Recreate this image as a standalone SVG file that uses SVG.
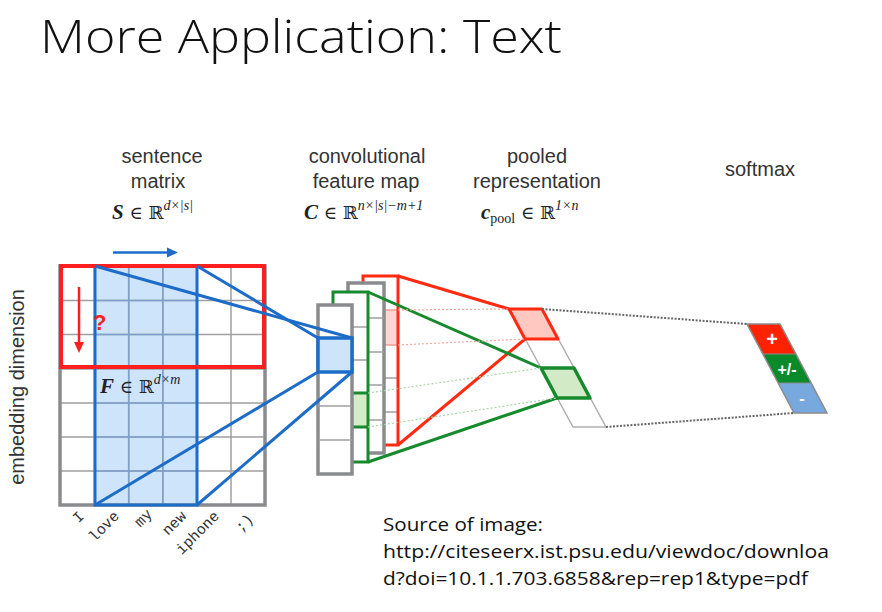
<svg xmlns="http://www.w3.org/2000/svg" width="882" height="612" viewBox="0 0 882 612">
<defs>
<style>
.lbl{font-family:"Liberation Sans",Arial,sans-serif;font-size:20px;fill:#333;text-anchor:middle}
.math{font-family:"Liberation Serif","DejaVu Serif",serif;fill:#222}
.word{font-family:"Liberation Mono","Courier New",monospace;font-size:15px;fill:#333}
.src{font-family:"Open Sans","Liberation Sans",sans-serif;font-size:19px;fill:#111}
.grid{stroke:#a0a0a0;stroke-width:1.5;fill:none}
.gbox{stroke:#8a8b8f;stroke-width:3.5}
.blue{stroke:#1c6cc8;stroke-width:3;fill:none}
.red{stroke:#ff2a12;stroke-width:3;fill:none}
.green{stroke:#168a2c;stroke-width:3;fill:none}
.rdot{stroke:#f7a59c;stroke-width:1.2;stroke-dasharray:2 2;fill:none}
.gdot{stroke:#a9d5a6;stroke-width:1.2;stroke-dasharray:2 2;fill:none}
.kdot{stroke:#666;stroke-width:2;stroke-dasharray:2 1.5;fill:none}
.sm{font-family:"Liberation Sans",Arial,sans-serif;font-weight:bold;fill:#fff;text-anchor:middle}
</style>
</defs>
<rect width="882" height="612" fill="#fff"/>
<text x="40" y="53" font-family="Open Sans, Liberation Sans, sans-serif" font-weight="300" font-size="46" fill="#111" textLength="522" lengthAdjust="spacingAndGlyphs">More Application: Text</text>

<!-- headers -->
<g id="hdr-sentence">
<text class="lbl" x="162" y="163">sentence</text>
<text class="lbl" x="158" y="188">matrix</text>
<text class="math" x="112" y="219" font-size="21"><tspan font-weight="bold" font-style="italic">S</tspan><tspan font-family="DejaVu Serif" font-size="18"> ∈ ℝ</tspan><tspan font-style="italic" font-size="14" dy="-9">d×|s|</tspan></text>
</g>
<g id="hdr-conv">
<text class="lbl" x="367" y="163">convolutional</text>
<text class="lbl" x="366" y="188">feature map</text>
<text class="math" x="304" y="219" font-size="21"><tspan font-weight="bold" font-style="italic">C</tspan><tspan font-family="DejaVu Serif" font-size="18"> ∈ ℝ</tspan><tspan font-style="italic" font-size="14" dy="-9">n×|s|−m+1</tspan></text>
</g>
<g id="hdr-pool">
<text class="lbl" x="537" y="163">pooled</text>
<text class="lbl" x="537" y="188">representation</text>
<text class="math" x="481" y="219" font-size="21"><tspan font-weight="bold" font-style="italic">c</tspan><tspan font-size="14" dy="4">pool</tspan><tspan font-family="DejaVu Serif" font-size="18" dy="-4"> ∈ ℝ</tspan><tspan font-style="italic" font-size="14" dy="-9">1×n</tspan></text>
</g>
<g id="hdr-softmax">
<text class="lbl" x="760" y="176">softmax</text>
</g>

<text class="lbl" transform="rotate(-90 24 387)" x="24" y="387">embedding dimension</text>

<!-- sentence matrix -->
<g id="sentence-matrix">
<rect x="60" y="266" width="205" height="239" fill="#fff"/>
<rect x="95" y="266" width="102" height="239" fill="#cde4fa"/>
<path class="grid" d="M60 300.5H265M60 334.5H265M60 369H265M60 403H265M60 437H265M60 471H265M94.5 266V505M128.7 266V505M162.8 266V505M197 266V505M231 266V505"/>
<path d="M95 300.5H197M95 334.5H197M95 403H197M95 437H197M95 471H197M128.7 266V505M162.8 266V505" stroke="#7d9fcc" stroke-width="1.5" fill="none"/>
<rect x="60" y="266" width="205" height="239" fill="none" stroke="#8a8b8f" stroke-width="3.5"/>
<rect class="blue" x="95" y="266" width="102" height="239" stroke-width="3.5"/>
<rect x="61" y="266" width="203" height="101" fill="none" stroke="#ff1f1f" stroke-width="4"/>
<line x1="113" y1="252.5" x2="168" y2="252.5" stroke="#1c6cc8" stroke-width="2.5"/>
<path d="M167 247.5L178 252.5L167 257.5Z" fill="#1c6cc8"/>
<line x1="79" y1="287" x2="79" y2="343" stroke="#ff1f1f" stroke-width="2.5"/>
<path d="M74 342L79 353L84 342Z" fill="#ff1f1f"/>
<text x="93" y="330" font-family="Liberation Sans,Arial,sans-serif" font-weight="bold" font-size="22" fill="#ff1f1f">?</text>
<text class="math" x="100" y="393" font-size="21"><tspan font-weight="bold" font-style="italic">F</tspan><tspan font-family="DejaVu Serif" font-size="18"> ∈ ℝ</tspan><tspan font-style="italic" font-size="14" dy="-9">d×m</tspan></text>
</g>

<!-- words -->
<g id="words">
<text class="word" x="78.6" y="523.4" rotate="-45">I</text>
<text class="word" x="94.55 100.91 107.27 113.64" y="542.45 536.09 529.73 523.36" rotate="-45">love</text>
<text class="word" x="140.27 146.64" y="527.73 521.36" rotate="-45">my</text>
<text class="word" x="167.91 174.27 180.64" y="536.09 529.73 523.36" rotate="-45">new</text>
<text class="word" x="181.82 188.18 194.55 200.91 207.27 213.64" y="555.18 548.82 542.45 536.09 529.73 523.36" rotate="-45">iphone</text>
<text class="word" x="241.27 247.64" y="532.73 526.36" rotate="-45">;)</text>
</g>

<!-- conv feature maps -->
<g id="conv-red">
<rect x="363" y="276" width="35" height="169" fill="#fff"/>
<rect x="384" y="310" width="14" height="35" fill="#ffd6d0"/>
<path d="M384 310H398M384 345H398" stroke="#f49a90" stroke-width="1.5"/>
<path d="M384 378H398M384 412H398" class="grid"/>
<rect class="red" x="363" y="276" width="35" height="169" stroke-width="3.5"/>
</g>
<g id="conv-gray">
<rect class="gbox" x="348" y="283" width="36" height="170" fill="#fff"/>
<path class="grid" d="M368 318H384M368 352H384M368 385H384M368 420H384"/>
</g>
<g id="conv-green">
<rect x="333" y="292" width="35" height="170" fill="#fff"/>
<rect x="352" y="393" width="16" height="34" fill="#d5ecc9"/>
<path class="grid" d="M352 327H368M352 360H368"/>
<path d="M352 393H368M352 427H368" stroke="#168a2c" stroke-width="3"/>
<rect class="green" x="333" y="292" width="35" height="170" stroke-width="3.5"/>
</g>
<g id="conv-front">
<rect class="gbox" x="318" y="305" width="34" height="169" fill="#fff"/>
<path class="grid" d="M318 406H352M318 440H352"/>
<rect x="318" y="338" width="34" height="34" fill="#cde4fa" stroke="#1c6cc8" stroke-width="3.5"/>
</g>

<!-- pooled -->
<g id="pooled">
<path d="M509 309H542L606 427H573Z" fill="#fff" stroke="#b0b0b0" stroke-width="1.5"/>
<path d="M525 339H558M557 398H590" stroke="#b0b0b0" stroke-width="1.5"/>
<path d="M509 309H542L558 339H525Z" fill="#ffc9c1" stroke="#ff2a12" stroke-width="3" stroke-linejoin="round"/>
<path d="M541 368H574L590 398H557Z" fill="#d3eac6" stroke="#168a2c" stroke-width="3.5" stroke-linejoin="round"/>
</g>

<!-- softmax -->
<g id="softmax">
<path d="M747 324H780L796 354H763Z" fill="#ff2200"/>
<path d="M763 354H796L811 383H778Z" fill="#0b8a2c"/>
<path d="M778 383H811L827 413H794Z" fill="#78a9de"/>
<path d="M747 324H780L827 413H794Z" fill="none" stroke="#8a8a8a" stroke-width="1.5"/>
<path d="M763 354H796M778 383H811" stroke="#8a8a8a" stroke-width="1.2"/>
<text class="sm" x="772" y="346" font-size="20">+</text>
<text class="sm" x="787" y="375" font-size="16">+/-</text>
<text class="sm" x="802" y="404" font-size="16">-</text>
</g>

<!-- connectors -->
<g id="connectors">
<line class="blue" x1="95" y1="266" x2="352" y2="338"/>
<line class="blue" x1="197" y1="266" x2="318" y2="338"/>
<line class="blue" x1="95" y1="505" x2="318" y2="372"/>
<line class="blue" x1="197" y1="505" x2="352" y2="372"/>
<line class="red" x1="398" y1="276" x2="509" y2="309"/>
<line class="red" x1="398" y1="445" x2="525" y2="339"/>
<line class="green" x1="368" y1="292" x2="541" y2="368"/>
<line class="green" x1="368" y1="462" x2="557" y2="398"/>
<line class="rdot" x1="398" y1="310" x2="509" y2="309"/>
<line class="rdot" x1="398" y1="345" x2="525" y2="339"/>
<line class="gdot" x1="368" y1="393" x2="541" y2="368"/>
<line class="gdot" x1="368" y1="427" x2="557" y2="398"/>
<line class="kdot" x1="542" y1="309" x2="747" y2="324"/>
<line class="kdot" x1="606" y1="427" x2="794" y2="413"/>
</g>

<g id="source">
<text class="src" x="383" y="531" textLength="160" lengthAdjust="spacingAndGlyphs">Source of image:</text>
<text class="src" x="383" y="558" textLength="446" lengthAdjust="spacingAndGlyphs">http://citeseerx.ist.psu.edu/viewdoc/downloa</text>
<text class="src" x="383" y="585" textLength="425" lengthAdjust="spacingAndGlyphs">d?doi=10.1.1.703.6858&amp;rep=rep1&amp;type=pdf</text>
</g>
</svg>
